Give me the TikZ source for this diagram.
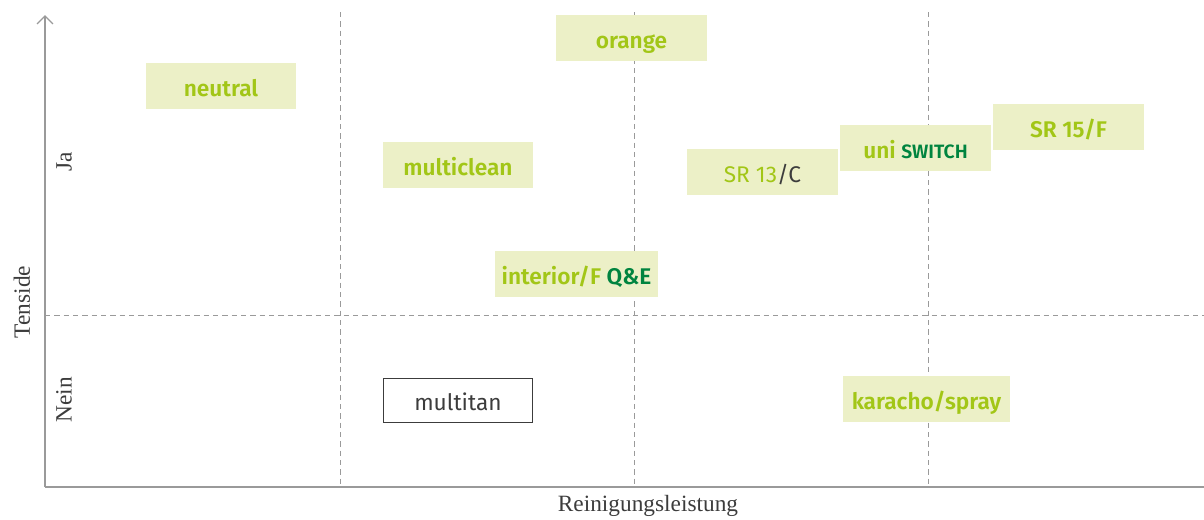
\documentclass[tikz,border=0pt]{standalone}
\usepackage{fontspec}
\setmainfont{Liberation Serif}
\newfontfamily\labelfont{Fira Sans SemiBold}
\newfontfamily\plainfont{Fira Sans}
\usetikzlibrary{arrows.meta}
\definecolor{boxfill}{HTML}{ECF0C7}
\definecolor{lime}{HTML}{A2C617}
\definecolor{darkgreen}{HTML}{00843F}
\definecolor{axisgray}{HTML}{9A9A9A}
\definecolor{textgray}{HTML}{3C3C3C}
\begin{document}
\begin{tikzpicture}[x=0.75pt,y=-0.75pt,
        product/.style={fill=boxfill,minimum width=113pt,minimum height=34.5pt,inner sep=0pt,
            text height=15pt,text depth=0pt,
            text=lime,font=\labelfont\fontsize{17}{20}\selectfont},
        grid line/.style={axisgray,dashed,dash pattern=on 4pt off 3pt,line width=0.6pt},
        axis label/.style={text=textgray,font=\fontsize{17.5}{20}\selectfont}]
        \useasboundingbox (0,0) rectangle (1204,519);
        % quadrant lines
        \draw[grid line] (340,12) -- (340,487);
        \draw[grid line] (634,12) -- (634,487);
        \draw[grid line] (928,12) -- (928,487);
        \draw[grid line] (45,315) -- (1204,315);
        % axes
        \coordinate (origin) at (45,487);
        \coordinate (ytop) at (45,15);
        \coordinate (xend) at (1204,487);
        \draw[axisgray,line width=1pt,-{Straight Barb[length=6pt,width=12pt]}] (origin) -- (ytop);
        \draw[axisgray,line width=1pt] (origin) -- (xend);
        \node[axis label,rotate=90] (tenside) at (22,302) {Tenside};
        \node[axis label,rotate=90] (ja) at (64,162) {Ja};
        \node[axis label,rotate=90] (nein) at (64,400) {Nein};
        \node[axis label] (reinigung) at (648,506) {Reinigungsleistung};
        % products
        \node[product] (neutral) at (221,86) {neutral};
        \node[product] (orange) at (631.5,38) {orange};
        \node[product] (multiclean) at (458,165) {multiclean};
        \node[product,minimum width=122pt] (interior) at (576.5,274) {interior/F \textcolor{darkgreen}{Q\&E}};
        \node[product,font=\plainfont\fontsize{17}{20}\selectfont] (sr13) at (762.5,172) {SR 13\textcolor{textgray}{/C}};
        \node[product] (uniswitch) at (915.5,148) {uni \textcolor{darkgreen}{\fontsize{14.5}{17}\selectfont SWITCH}};
        \node[product] (sr15) at (1068.5,127) {SR 15/F};
        \node[product,fill=white,draw=textgray,line width=0.8pt,text=textgray,minimum width=112pt,
            minimum height=33.5pt,font=\plainfont\fontsize{17}{20}\selectfont] (multitan) at (458,400.5) {multitan};
        \node[product,minimum width=125pt] (karacho) at (926.5,399) {karacho/spray};
    \end{tikzpicture}
\end{document}
